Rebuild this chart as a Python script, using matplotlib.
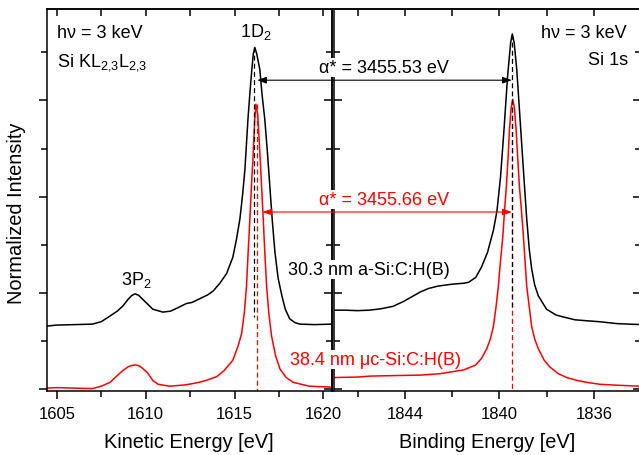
import matplotlib
matplotlib.use('Agg')
import matplotlib.pyplot as plt
from matplotlib.ticker import MultipleLocator, NullFormatter

plt.rcParams['font.family'] = ['Liberation Sans', 'DejaVu Sans']
plt.rcParams['mathtext.fontset'] = 'custom'
plt.rcParams['mathtext.rm'] = 'Liberation Sans'
plt.rcParams['mathtext.it'] = 'Liberation Sans:italic'
plt.rcParams['mathtext.default'] = 'regular'

# Si KL23L23 Auger, kinetic energy (eV) - a-Si:C:H(B), black
ke_black_x = [1604.45, 1605.0, 1606.0, 1607.0, 1607.5, 1608.0, 1608.4, 1608.7, 1609.0, 1609.2,
              1609.4, 1609.6, 1609.85, 1610.4, 1610.97, 1611.4, 1611.75, 1612.3, 1612.6, 1613.05,
              1613.5, 1613.8, 1614.17, 1614.55, 1614.9, 1615.1, 1615.3, 1615.45, 1615.58, 1615.75,
              1615.87, 1615.97, 1616.05, 1616.14, 1616.25, 1616.42, 1616.55, 1616.7, 1616.85, 1616.98,
              1617.12, 1617.27, 1617.45, 1617.66, 1617.85, 1618.1, 1618.4, 1618.67, 1619.5, 1620.45]
ke_black_y = [0.655, 0.665, 0.67, 0.675, 0.70, 0.76, 0.81, 0.86, 0.93, 0.97,
              0.99, 0.975, 0.93, 0.83, 0.80, 0.81, 0.84, 0.89, 0.90, 0.94,
              0.98, 1.02, 1.10, 1.20, 1.37, 1.55, 1.77, 2.02, 2.28, 2.80,
              3.10, 3.32, 3.48, 3.55, 3.48, 3.32, 3.05, 2.80, 2.45, 2.11,
              1.75, 1.42, 1.15, 0.97, 0.83, 0.73, 0.69, 0.675, 0.67, 0.675]

# μc-Si:C:H(B), red
ke_red_x = [1604.45, 1605.0, 1606.0, 1607.0, 1607.5, 1608.0, 1608.4, 1608.7, 1609.0, 1609.2,
            1609.4, 1609.6, 1609.8, 1610.1, 1610.4, 1610.7, 1611.35, 1612.3, 1613.0, 1613.4,
            1614.0, 1614.4, 1614.9, 1615.2, 1615.4, 1615.55, 1615.67, 1615.77, 1615.86, 1615.96,
            1616.05, 1616.13, 1616.2, 1616.3, 1616.42, 1616.52, 1616.61, 1616.7, 1616.8, 1616.93,
            1617.08, 1617.3, 1617.55, 1617.9, 1618.3, 1619.2, 1620.45]
ke_red_y = [0.01, 0.015, 0.01, 0.005, 0.03, 0.07, 0.14, 0.19, 0.23, 0.245,
            0.25, 0.245, 0.22, 0.17, 0.09, 0.05, 0.03, 0.045, 0.07, 0.09,
            0.13, 0.19, 0.30, 0.45, 0.58, 0.80, 1.07, 1.45, 1.77, 2.15,
            2.46, 2.80, 2.96, 2.85, 2.46, 2.10, 1.77, 1.42, 1.07, 0.78,
            0.55, 0.35, 0.21, 0.12, 0.07, 0.03, 0.02]

# Si 1s, binding energy (eV)
be_black_x = [1847.0, 1846.5, 1846.0, 1845.5, 1845.0, 1844.5, 1844.06, 1843.7, 1843.34, 1843.0,
              1842.6, 1842.0, 1841.5, 1841.3, 1841.0, 1840.75, 1840.5, 1840.25, 1840.1, 1839.95,
              1839.8, 1839.65, 1839.52, 1839.45, 1839.37, 1839.26, 1839.12, 1838.98, 1838.84, 1838.73,
              1838.63, 1838.5, 1838.35, 1838.0, 1837.6, 1837.3, 1836.8, 1836.3, 1835.75, 1835.0,
              1834.0]
be_black_y = [0.82, 0.82, 0.815, 0.82, 0.835, 0.86, 0.91, 0.96, 1.01, 1.045,
              1.07, 1.09, 1.10, 1.11, 1.16, 1.27, 1.42, 1.65, 1.85, 2.20,
              2.70, 3.25, 3.60, 3.69, 3.60, 3.32, 2.80, 2.28, 1.77, 1.45,
              1.25, 1.08, 0.97, 0.83, 0.77, 0.75, 0.72, 0.71, 0.70, 0.68,
              0.67]

be_red_x = [1847.0, 1846.0, 1845.45, 1844.5, 1843.34, 1842.5, 1842.0, 1841.5, 1841.0, 1840.75,
            1840.53, 1840.38, 1840.25, 1840.14, 1840.04, 1839.95, 1839.85, 1839.78, 1839.7, 1839.63,
            1839.57, 1839.5, 1839.43, 1839.36, 1839.29, 1839.22, 1839.15, 1839.06, 1838.98, 1838.91,
            1838.84, 1838.73, 1838.63, 1838.5, 1838.35, 1838.1, 1837.86, 1837.5, 1837.15, 1836.7,
            1836.3, 1835.75, 1835.0, 1834.0]
be_red_y = [0.12, 0.125, 0.135, 0.14, 0.145, 0.16, 0.18, 0.20, 0.25, 0.32,
            0.42, 0.52, 0.65, 0.85, 1.07, 1.33, 1.59, 1.85, 2.11, 2.40,
            2.70, 2.92, 3.01, 2.92, 2.70, 2.40, 2.11, 1.85, 1.59, 1.33,
            1.07, 0.85, 0.65, 0.52, 0.42, 0.30, 0.23, 0.16, 0.12, 0.09,
            0.07, 0.05, 0.04, 0.03]

# peak markers and alpha* arrows
ke_peak_black, ke_peak_red = 1616.1, 1616.24
be_peak_black, be_peak_red = 1839.45, 1839.45
dash_black_y = [3.55, 0.75]
dash_red_y = [2.96, -0.02]
dash_be_black_y = [3.69, 0.85]
dash_be_red_y = [3.01, -0.02]
arrow_black = (1616.27, 1839.47, 3.21)
arrow_red = (1616.57, 1839.47, 1.84)

red = '#ff0000'
W, H = 639, 456
fig = plt.figure(figsize=(W / 100, H / 100), dpi=100)
ax1 = fig.add_axes([47 / W, 64 / H, 284.5 / W, 382 / H])
ax2 = fig.add_axes([334 / W, 64 / H, 307 / W, 382 / H])

lw = 1.1
ax1.plot(ke_black_x, ke_black_y, color='black', lw=lw)
ax1.plot(ke_red_x, ke_red_y, color=red, lw=lw)
ax1.plot([ke_peak_red] * 2, dash_red_y, color=red, lw=0.9, ls=(0, (4, 2.5)))
ax1.plot([ke_peak_black] * 2, dash_black_y, color='black', lw=0.9, ls=(0, (4, 2.5)))

ax2.plot(be_black_x, be_black_y, color='black', lw=lw)
ax2.plot(be_red_x, be_red_y, color=red, lw=lw)
ax2.plot([be_peak_red] * 2, dash_be_red_y, color=red, lw=0.9, ls=(0, (4, 2.5)))
ax2.plot([be_peak_black] * 2, dash_be_black_y, color='black', lw=0.9, ls=(0, (4, 2.5)))

ylim = (-0.02, 3.95)
ax1.set_xlim(1604.45, 1620.45)
ax2.set_xlim(1847.0, 1834.0)
for ax in (ax1, ax2):
    ax.set_ylim(*ylim)
    ax.yaxis.set_major_locator(MultipleLocator(1))
    ax.yaxis.set_minor_locator(MultipleLocator(0.5))
    ax.yaxis.set_major_formatter(NullFormatter())
    for s in ax.spines.values():
        s.set_linewidth(1.1)

ax1.xaxis.set_major_locator(MultipleLocator(5))
ax1.xaxis.set_minor_locator(MultipleLocator(2.5))
ax2.xaxis.set_major_locator(MultipleLocator(4))
ax2.xaxis.set_minor_locator(MultipleLocator(2))

tick_kw = dict(width=1.1, labelsize=12, pad=5)
ax1.tick_params(axis='x', which='both', direction='out', top=False, **tick_kw)
ax1.tick_params(axis='y', which='both', direction='out', right=False, left=True, width=1.1)
ax2.tick_params(axis='x', which='both', direction='out', top=False, **tick_kw)
ax2.tick_params(axis='y', which='both', direction='in', left=True, right=True, width=1.1)
for ax in (ax1, ax2):
    ax.tick_params(which='major', length=5.5)
    ax.tick_params(which='minor', length=4)

# inward ticks on the top spines and on the right spine of the left panel
for ax, step in ((ax1, 2.5), (ax2, 2)):
    top = ax.secondary_xaxis('top')
    top.xaxis.set_major_locator(MultipleLocator(step))
    top.tick_params(direction='in', length=5, width=1.1, labeltop=False)
    top.spines['top'].set_linewidth(1.1)
rax = ax1.secondary_yaxis('right')
rax.yaxis.set_major_locator(MultipleLocator(1))
rax.yaxis.set_minor_locator(MultipleLocator(0.5))
rax.tick_params(which='both', direction='in', width=1.1, labelright=False)
rax.tick_params(which='major', length=5.5)
rax.tick_params(which='minor', length=4)
rax.spines['right'].set_linewidth(1.1)

ax1.set_xlabel('Kinetic Energy [eV]', fontsize=14.4, labelpad=8)
ax2.set_xlabel('Binding Energy [eV]', fontsize=14.4, labelpad=8)
ax1.set_ylabel('Normalized Intensity', fontsize=14.4)
ax1.yaxis.set_label_coords(-0.075, 0.469)

for a in (arrow_black, arrow_red):
    col = 'black' if a is arrow_black else red
    ax2.annotate('', xy=(a[0], a[2]), xycoords=ax1.transData,
                 xytext=(a[1], a[2]), textcoords=ax2.transData,
                 arrowprops=dict(arrowstyle='<|-|>,head_length=0.55,head_width=0.2',
                                 color=col, lw=0.8, shrinkA=0, shrinkB=0),
                 annotation_clip=False)


def fx(px):
    return px / W


def fy(py):
    return 1 - py / H


fs = 13
box = dict(facecolor='white', edgecolor='none', pad=1)
fig.text(fx(57), fy(37.7), 'h\u03bd = 3 keV', fontsize=fs, va='baseline')
fig.text(fx(57), fy(66.5), 'Si KL$_{2{,}3}$L$_{2{,}3}$', fontsize=fs, va='baseline')
fig.text(fx(255.5), fy(37), '1D$_{2}$', fontsize=fs, va='baseline', ha='center')
fig.text(fx(136.5), fy(285), '3P$_{2}$', fontsize=fs, va='baseline', ha='center')
fig.text(fx(627), fy(37.7), 'h\u03bd = 3 keV', fontsize=fs, va='baseline', ha='right')
fig.text(fx(628), fy(65), 'Si 1s', fontsize=fs, va='baseline', ha='right')
fig.text(fx(384), fy(73), '\u03b1* = 3455.53 eV', fontsize=fs, va='baseline', ha='center', bbox=box)
fig.text(fx(384.5), fy(205), '\u03b1* = 3455.66 eV', fontsize=fs, va='baseline', ha='center',
         color=red, bbox=box)
fig.text(fx(369), fy(275), '30.3 nm a-Si:C:H(B)', fontsize=fs, va='baseline', ha='center', bbox=box)
fig.text(fx(375), fy(365), '38.4 nm \u03bcc-Si:C:H(B)', fontsize=fs, va='baseline', ha='center',
         color=red, bbox=box)

fig.savefig('out.png', dpi=100)
